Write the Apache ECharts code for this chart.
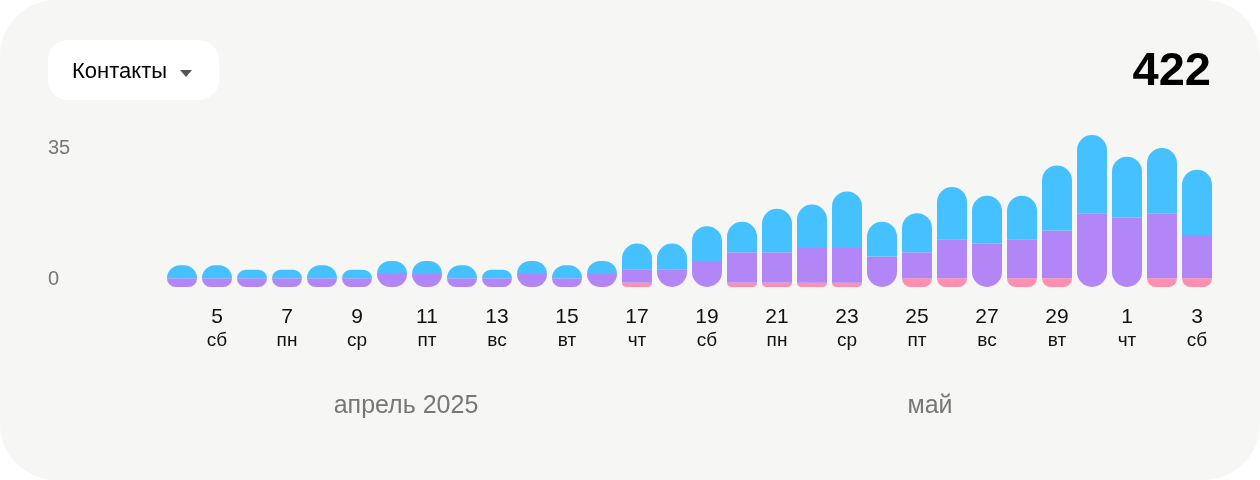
<!DOCTYPE html>
<html>
<head>
<meta charset="utf-8">
<script src="https://cdn.jsdelivr.net/npm/echarts@6/dist/echarts.min.js"></script>
<style>
  html, body { margin: 0; padding: 0; background: #ffffff; }
  #card { width: 1260px; height: 480px; background: #f6f6f4; border-radius: 56px; overflow: hidden; }
  #chart { width: 1260px; height: 480px; }
</style>
</head>
<body>
<div id="card"><div id="chart"></div></div>
<script>
// 4 апреля .. 3 мая 2025
const days = ['4','5','6','7','8','9','10','11','12','13','14','15','16','17','18','19','20','21','22','23','24','25','26','27','28','29','30','1','2','3']
const weekdays = ['пт','сб','вс','пн','вт','ср','чт','пт','сб','вс','пн','вт','ср','чт','пт','сб','вс','пн','вт','ср','чт','пт','сб','вс','пн','вт','ср','чт','пт','сб']
const pink   = [0,0,0,0,0,0,0,0,0,0,0,0,0, 1,0,0,1,1,1,1,0, 2,2,0,2,2,0,0,2,2]
const purple = [2,2,2,2,2,2,3,3,2,2,3,2,3, 3,4,6,7,7,8,8,7, 6,9,10,9,11,17,16,15,10]
const blue   = [3,3,2,2,3,2,3,3,3,2,3,3,3, 6,6,8,7,10,10,13,8, 9,12,11,10,15,18,14,15,15]
const yTicks = [0, 35]
const months = ['апрель 2025', 'май']
const total = '422'
const filterName = 'Контакты'

const R = 15
const font = '"Liberation Sans", Arial, Helvetica, sans-serif'

const pinkData = pink.map(v => ({ value: v, itemStyle: { borderRadius: [0, 0, R, R] } }))
const purpleData = purple.map((v, i) => ({
  value: v,
  itemStyle: { borderRadius: pink[i] > 0 ? 0 : [0, 0, R, R] }
}))
const blueData = blue.map(v => ({ value: v, itemStyle: { borderRadius: [R, R, 0, 0] } }))

const chart = echarts.init(document.getElementById('chart'))
chart.setOption({
  backgroundColor: 'transparent',
  animation: false,
  textStyle: { fontFamily: font },
  grid: { left: 164.5, right: 45.5, top: 135, bottom: 193, containLabel: false, outerBoundsMode: 'none' },
  xAxis: {
    type: 'category',
    data: days,
    axisLine: { show: false },
    axisTick: { show: false },
    axisLabel: {
      interval: (idx) => idx % 2 === 1,
      margin: 19,
      formatter: (v, idx) => '{d|' + v + '}\n{w|' + weekdays[idx] + '}',
      rich: {
        d: { fontSize: 21, lineHeight: 22, color: '#111', fontFamily: font },
        w: { fontSize: 19, lineHeight: 25, color: '#111', fontFamily: font }
      }
    }
  },
  yAxis: {
    type: 'value',
    min: yTicks[0],
    max: yTicks[1],
    interval: yTicks[1] - yTicks[0],
    splitLine: { show: false },
    axisLine: { show: false },
    axisTick: { show: false },
    axisLabel: {
      align: 'left',
      margin: 116.5,
      formatter: v => (v === yTicks[0] ? '{lo|' + v + '}' : '{hi|' + v + '}'),
      rich: {
        lo: { fontSize: 20, color: '#777', fontFamily: font, padding: [0, 0, 16, 0] },
        hi: { fontSize: 20, color: '#777', fontFamily: font, padding: [27, 0, 0, 0] }
      }
    }
  },
  series: [
    { name: 'pink', type: 'bar', stack: 'all', barWidth: 30, itemStyle: { color: '#ff8fae' }, data: pinkData },
    { name: 'purple', type: 'bar', stack: 'all', barWidth: 30, itemStyle: { color: '#b386f7' }, data: purpleData },
    { name: 'blue', type: 'bar', stack: 'all', barWidth: 30, itemStyle: { color: '#46c1ff' }, data: blueData }
  ],
  graphic: [
    { type: 'rect', left: 48, top: 40, shape: { width: 171, height: 60, r: 20 }, style: { fill: '#ffffff' } },
    { type: 'text', x: 72, y: 72, style: { text: filterName, fill: '#000', font: '22px ' + font, textVerticalAlign: 'middle' } },
    { type: 'polygon', shape: { points: [[180, 70], [192, 70], [186, 77]] }, style: { fill: '#555' } },
    { type: 'text', x: 1211, y: 72, style: { text: total, fill: '#000', font: 'bold 47px ' + font, textAlign: 'right', textVerticalAlign: 'middle' } },
    { type: 'text', x: 406, y: 406, style: { text: months[0], fill: '#777', font: '25px ' + font, textAlign: 'center', textVerticalAlign: 'middle' } },
    { type: 'text', x: 930, y: 406, style: { text: months[1], fill: '#777', font: '25px ' + font, textAlign: 'center', textVerticalAlign: 'middle' } }
  ]
})
</script>
</body>
</html>
